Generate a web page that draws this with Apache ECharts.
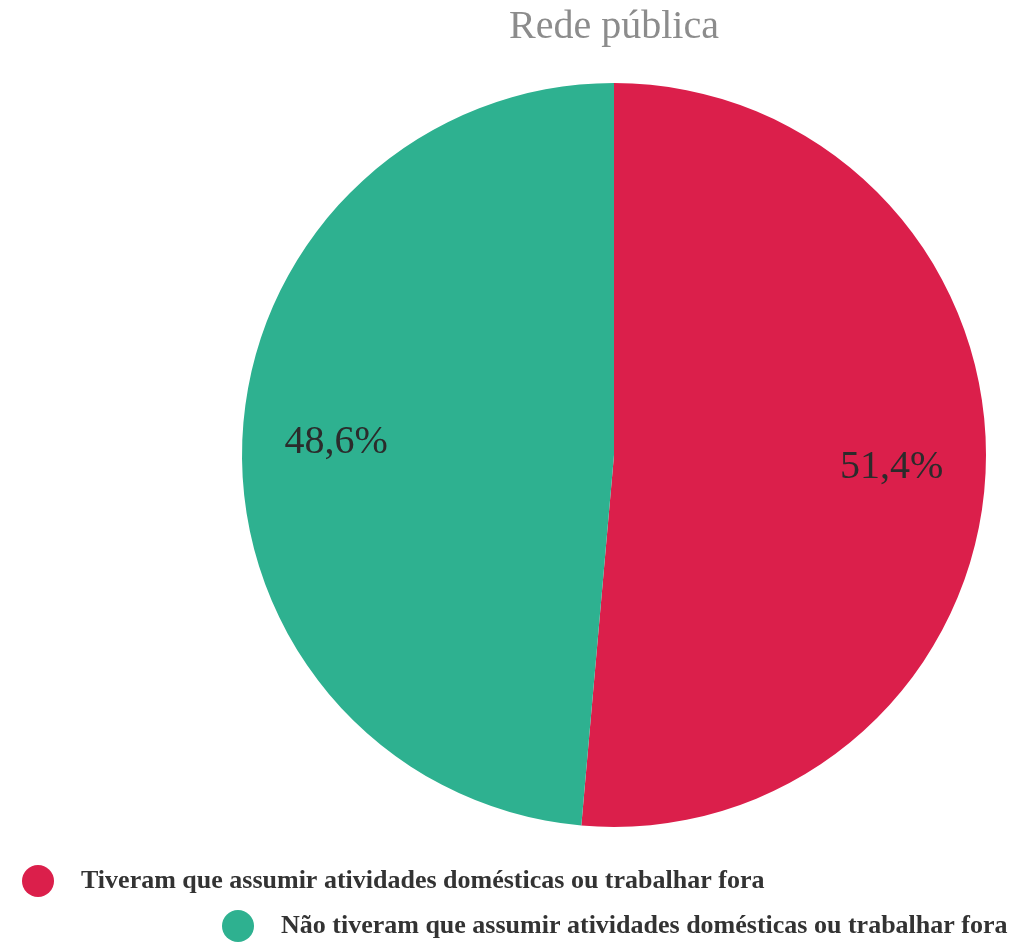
<!DOCTYPE html>
<html>
<head>
<meta charset="utf-8">
<script src="https://cdn.jsdelivr.net/npm/echarts@6/dist/echarts.min.js"></script>
<style>
  html, body { margin: 0; padding: 0; background: #fff; }
  #chart { width: 1018px; height: 942px; }
</style>
</head>
<body>
<div id="chart"></div>
<script>
const titleText = 'Rede pública';
const categories = [
  'Tiveram que assumir atividades domésticas ou trabalhar fora',
  'Não tiveram que assumir atividades domésticas ou trabalhar fora'
];
const values = [51.4, 48.6];
const colors = ['#db1f4b', '#2eb190'];

const chart = echarts.init(document.getElementById('chart'));
const serif = '"Liberation Serif", "DejaVu Serif", serif';

const pieData = categories.map((name, i) => ({
  name,
  value: values[i],
  itemStyle: { color: colors[i] }
}));

const legendText = {
  fontFamily: serif,
  fontWeight: 'bold',
  fontSize: 26,
  color: '#333',
  padding: [0, 0, 0, 22]
};

const option = {
  backgroundColor: '#fff',
  title: {
    text: titleText,
    left: 609,
    textAlign: 'center',
    top: 2,
    textStyle: { fontFamily: serif, fontWeight: 'normal', fontSize: 40, color: '#8c8c8c' }
  },
  legend: [
    {
      data: [categories[0]],
      left: 17, top: 860,
      icon: 'circle', itemWidth: 32, itemHeight: 36,
      textStyle: legendText
    },
    {
      data: [categories[1]],
      left: 217, top: 905,
      icon: 'circle', itemWidth: 32, itemHeight: 36,
      textStyle: legendText
    }
  ],
  series: [
    {
      type: 'pie',
      center: [614, 455],
      radius: [0, 372],
      startAngle: 90,
      clockwise: true,
      data: pieData,
      label: { show: false },
      labelLine: { show: false },
      emphasis: { disabled: true }
    },
    {
      // transparent ring used only to place labels further out
      type: 'pie',
      center: [614, 455],
      radius: [178, 372],
      startAngle: 90,
      clockwise: true,
      silent: true,
      data: pieData.map(d => ({ name: d.name, value: d.value })),
      itemStyle: { color: 'rgba(0,0,0,0)' },
      label: {
        show: true,
        position: 'inside',
        formatter: p => String(p.value.toFixed(1)).replace('.', ',') + '%',
        fontFamily: serif,
        fontSize: 40,
        color: '#2b2b2b'
      },
      labelLine: { show: false },
      emphasis: { disabled: true }
    }
  ]
};

chart.setOption(option);
</script>
</body>
</html>
